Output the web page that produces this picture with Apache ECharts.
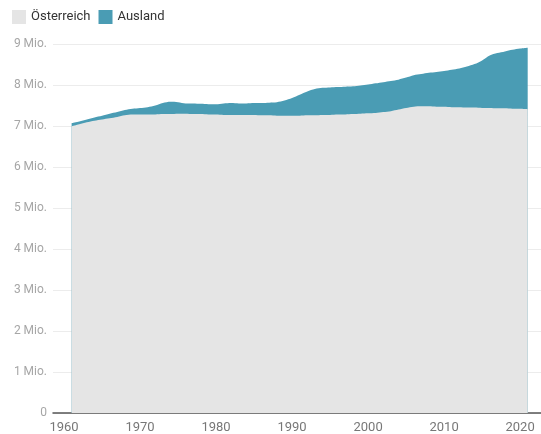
<!DOCTYPE html>
<html>
<head>
  <meta charset="utf-8">
  <title>Bevölkerung Österreich</title>
  <script src="https://cdn.jsdelivr.net/npm/echarts@6/dist/echarts.min.js"></script>
  <style>
    html, body { margin: 0; padding: 0; background: #fff; }
  </style>
</head>
<body>
<div id="main" style="width: 541px;height:434px;"></div>
<script type="text/javascript">
  // Jahre 1961-2021, Werte in Mio.
  var jahre = [];
  for (var j = 1961; j <= 2021; j++) jahre.push(j);

  var oesterreich = [
    6.99, 7.04, 7.09, 7.13, 7.16, 7.19, 7.22, 7.26, 7.28, 7.28,
    7.28, 7.28, 7.29, 7.29, 7.30, 7.30, 7.29, 7.29, 7.28, 7.28,
    7.27, 7.27, 7.27, 7.27, 7.27, 7.26, 7.26, 7.25, 7.25, 7.25,
    7.25, 7.26, 7.26, 7.27, 7.27, 7.28, 7.28, 7.29, 7.30, 7.31,
    7.32, 7.34, 7.36, 7.40, 7.44, 7.47, 7.48, 7.48, 7.47, 7.47,
    7.46, 7.46, 7.45, 7.45, 7.44, 7.44, 7.43, 7.43, 7.42, 7.42,
    7.41
  ];

  var ausland = [
    0.08, 0.07, 0.07, 0.08, 0.09, 0.11, 0.12, 0.13, 0.14, 0.16,
    0.18, 0.22, 0.27, 0.30, 0.28, 0.25, 0.26, 0.25, 0.25, 0.25,
    0.28, 0.29, 0.28, 0.28, 0.29, 0.30, 0.31, 0.33, 0.37, 0.43,
    0.51, 0.58, 0.64, 0.66, 0.67, 0.67, 0.68, 0.68, 0.69, 0.70,
    0.72, 0.73, 0.74, 0.73, 0.74, 0.77, 0.79, 0.82, 0.85, 0.87,
    0.91, 0.94, 1.00, 1.06, 1.16, 1.28, 1.35, 1.39, 1.44, 1.47,
    1.50
  ];

  var xTicks = [1960, 1970, 1980, 1990, 2000, 2010, 2020];

  // Ausland liegt oben auf Österreich (gestapelt)
  var oben = jahre.map(function (y, i) { return [y, oesterreich[i] + ausland[i]]; });
  var unten = jahre.map(function (y, i) { return [y, oesterreich[i]]; });

  var myChart = echarts.init(document.getElementById('main'));

  var option = {
    animation: false,
    textStyle: { fontFamily: 'Roboto' },
    legend: {
      left: 7,
      top: 5,
      itemWidth: 14,
      itemHeight: 14,
      itemGap: 8,
      icon: 'rect',
      textStyle: { color: '#333', fontSize: 13 },
      data: ['Österreich', 'Ausland']
    },
    grid: {
      left: 53,
      right: 0,
      top: 44,
      bottom: 19
    },
    xAxis: {
      type: 'value',
      min: 1958.55,
      max: 2022.75,
      axisLine: { show: true, lineStyle: { color: '#555', width: 1.5 } },
      axisTick: { show: false },
      splitLine: { show: false },
      axisLabel: {
        color: '#777',
        fontSize: 13,
        margin: 8,
        customValues: xTicks,
        formatter: function (v) { return String(v); }
      }
    },
    yAxis: {
      type: 'value',
      min: 0,
      max: 9,
      interval: 1,
      axisLine: { show: false },
      axisTick: { show: false },
      splitLine: { lineStyle: { color: '#ececec', width: 1 } },
      axisLabel: {
        color: '#a6a6a6',
        fontSize: 12,
        margin: 6,
        formatter: function (v) { return v === 0 ? '0' : v + ' Mio.'; }
      }
    },
    series: [
      {
        name: 'Ausland',
        type: 'line',
        smooth: 0.3,
        symbol: 'none',
        z: 2,
        itemStyle: { color: '#4a9cb4' },
        lineStyle: { width: 0 },
        areaStyle: { color: '#4a9cb4', opacity: 1 },
        data: oben
      },
      {
        name: 'Österreich',
        type: 'line',
        smooth: 0.3,
        symbol: 'none',
        z: 3,
        itemStyle: { color: '#e5e5e5' },
        lineStyle: { width: 0 },
        areaStyle: { color: '#e5e5e5', opacity: 1 },
        data: unten
      }
    ]
  };

  myChart.setOption(option);
</script>
</body>
</html>
